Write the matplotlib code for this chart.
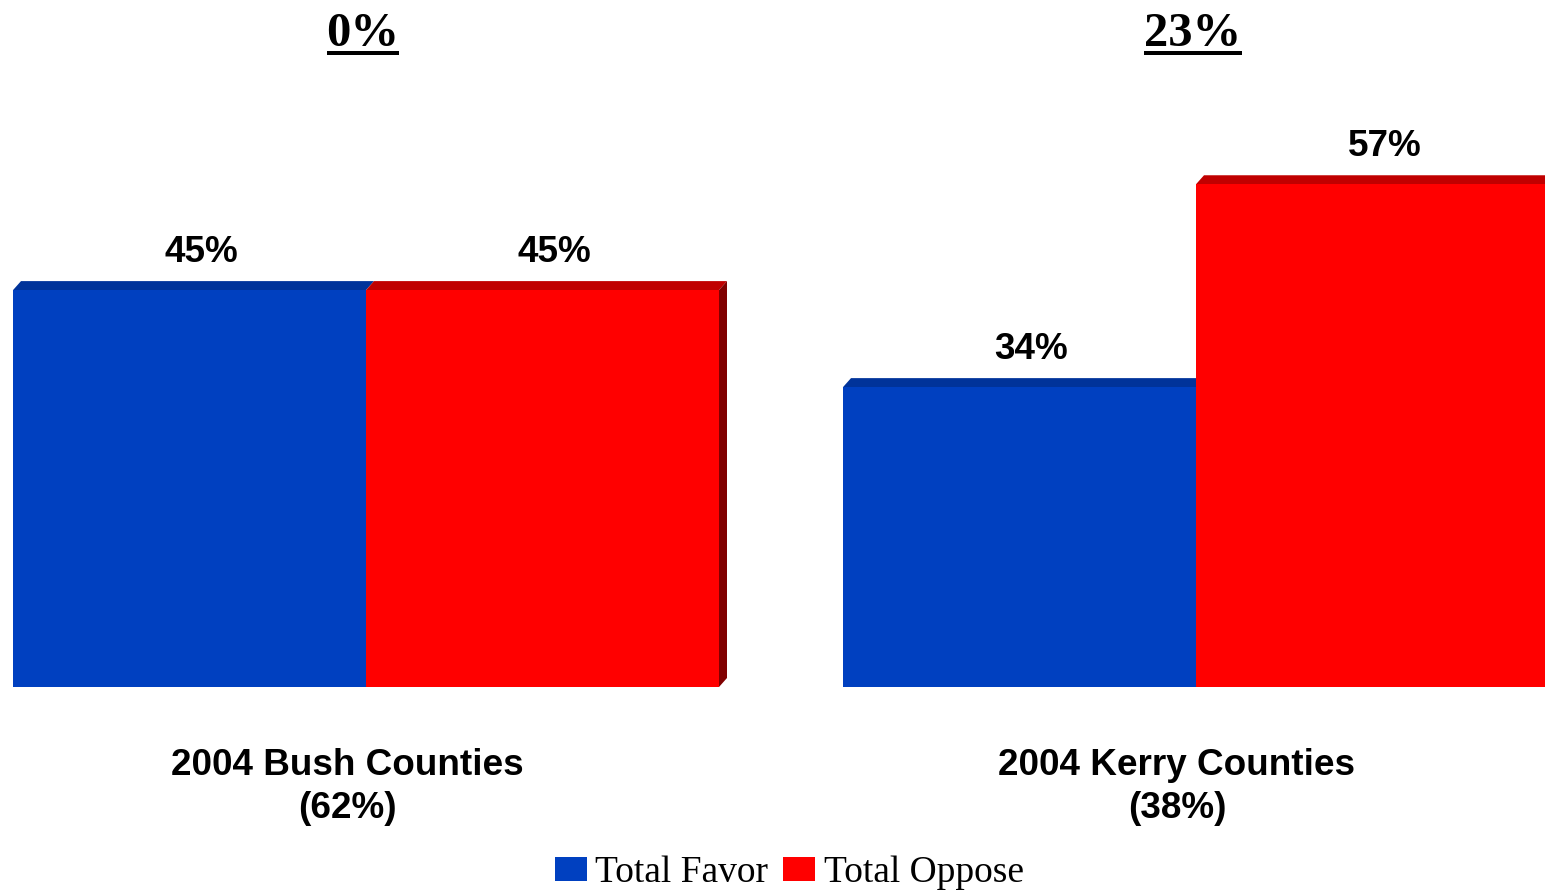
import matplotlib
matplotlib.use("Agg")
import matplotlib.pyplot as plt
from matplotlib.patches import Polygon
from matplotlib.lines import Line2D
from matplotlib.transforms import blended_transform_factory, offset_copy

# data
groups = ["2004 Bush Counties", "2004 Kerry Counties"]
group_shares = ["(62%)", "(38%)"]
margins = ["0%", "23%"]
favor = [45, 34]
oppose = [45, 57]

BLUE, BLUE_TOP = "#0040C0", "#00339A"
RED, RED_TOP, RED_SIDE = "#FF0000", "#C00000", "#800000"

W, H = 1545, 891
fig = plt.figure(figsize=(W / 100, H / 100), dpi=100)

px_per_unit_x = 830.0   # pixels between group centres
px_per_pct = 8.82       # pixels per percentage point
base_px = 687           # baseline, from top
x0_px = 366             # first group centre

ax = fig.add_axes([0, 1 - base_px / H, 1, base_px / H])
ax.set_xlim(-x0_px / px_per_unit_x, (W - x0_px) / px_per_unit_x)
ax.set_ylim(0, base_px / px_per_pct)
ax.axis("off")

w = 353 / px_per_unit_x
dx = 8 / px_per_unit_x
dy = 9 / px_per_pct

xs = list(range(len(groups)))
b1 = ax.bar([x - w / 2 for x in xs], favor, w, color=BLUE, label="Total Favor", zorder=2)
b2 = ax.bar([x + w / 2 for x in xs], oppose, w, color=RED, label="Total Oppose", zorder=4)


def bevel(x_left, h, col_top, col_side, z, side=True):
    top = Polygon([(x_left, h), (x_left + w, h), (x_left + w + dx, h + dy), (x_left + dx, h + dy)],
                  closed=True, facecolor=col_top, edgecolor="none", zorder=z)
    ax.add_patch(top)
    if side:
        sd = Polygon([(x_left + w, 0), (x_left + w + dx, dy), (x_left + w + dx, h + dy), (x_left + w, h)],
                     closed=True, facecolor=col_side, edgecolor="none", zorder=z)
        ax.add_patch(sd)


for i, x in enumerate(xs):
    bevel(x - w, favor[i], BLUE_TOP, BLUE_TOP, 1, side=False)
    bevel(x, oppose[i], RED_TOP, RED_SIDE, 3)

SANS = 26.6
# value labels
lbl_tr = offset_copy(ax.transData, fig=fig, x=12 * 0.72, y=(9 + 19) * 0.72, units="points")
for i, x in enumerate(xs):
    ax.text(x - w / 2, favor[i], f"{favor[i]}%", transform=lbl_tr, ha="center", va="baseline",
            fontsize=SANS, fontweight="bold", family="Liberation Sans")
    ax.text(x + w / 2, oppose[i], f"{oppose[i]}%", transform=lbl_tr, ha="center", va="baseline",
            fontsize=SANS, fontweight="bold", family="Liberation Sans")

# category labels and margins on top
bt = blended_transform_factory(ax.transData, fig.transFigure)
cat_tr = offset_copy(bt, fig=fig, x=-19 * 0.72, y=0, units="points")
title_tr = offset_copy(bt, fig=fig, x=-3 * 0.72, y=0, units="points")
titles = []
for i, x in enumerate(xs):
    fig.text(x, 1 - 775 / H, groups[i], transform=cat_tr, ha="center", va="baseline",
             fontsize=SANS, fontweight="bold", family="Liberation Sans")
    fig.text(x, 1 - 818 / H, group_shares[i], transform=cat_tr, ha="center", va="baseline",
             fontsize=SANS, fontweight="bold", family="Liberation Sans")
    t = fig.text(x, 1 - 46 / H, margins[i], transform=title_tr, ha="center", va="baseline",
                 fontsize=35, fontweight="bold", family="Liberation Serif")
    titles.append(t)

# underline the margin titles
renderer = fig.canvas.get_renderer()
for t in titles:
    bb = t.get_window_extent(renderer).transformed(fig.transFigure.inverted())
    fig.add_artist(Line2D([bb.x0, bb.x1], [1 - 53 / H] * 2, transform=fig.transFigure,
                          color="black", lw=4 * 0.72, solid_capstyle="butt"))

fig.legend(handles=[b1, b2], loc="center", bbox_to_anchor=(789 / W, 1 - 873 / H), ncol=2,
           frameon=False, prop={"family": "Liberation Serif", "size": 27},
           handlelength=0.86, handleheight=0.6, handletextpad=0.22, columnspacing=0.4,
           borderpad=0, borderaxespad=0)

fig.savefig("out.png", dpi=100)
